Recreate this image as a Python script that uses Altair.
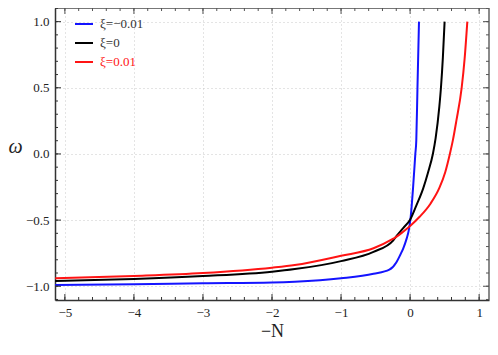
import altair as alt
import pandas as pd

# ---- data ----
series_labels = ["ξ=−0.01", "ξ=0", "ξ=0.01"]
series_colors = ["#1414ff", "#000000", "#ff1414"]
label_colors = ["#333333", "#333333", "#ff1414"]

x_blue = [-5.14, -4, -3, -2, -1.67, -1, -0.53, -0.3, -0.2, -0.14, -0.1, -0.05, -0.02, 0.01, 0.043, 0.076, 0.09, 0.107, 0.129]
w_blue = [-0.99, -0.985, -0.978, -0.972, -0.966, -0.94, -0.906, -0.875, -0.82, -0.76, -0.715, -0.64, -0.58, -0.47, -0.257, 0.0, 0.104, 0.5, 1.0]

x_black = [-5.14, -4, -3, -2, -1.67, -1, -0.53, -0.243, -0.195, -0.1, 0, 0.09, 0.19, 0.26, 0.33, 0.37, 0.424, 0.447, 0.475, 0.5]
w_black = [-0.96, -0.945, -0.923, -0.89, -0.87, -0.81, -0.74, -0.653, -0.62, -0.56, -0.497, -0.39, -0.26, -0.14, 0.0, 0.12, 0.36, 0.5, 0.73, 1.0]

x_red = [-5.14, -4, -3, -2, -1.67, -1, -0.53, -0.243, -0.195, -0.1, 0, 0.138, 0.295, 0.424, 0.51, 0.576, 0.62, 0.67, 0.747, 0.79, 0.829]
w_red = [-0.94, -0.922, -0.90, -0.86, -0.84, -0.77, -0.713, -0.64, -0.625, -0.588, -0.545, -0.475, -0.376, -0.257, -0.136, 0.0, 0.104, 0.25, 0.5, 0.72, 1.0]

x_major = [-5, -4, -3, -2, -1, 0, 1]
x_minor = [round(-5.0 + 0.2 * i, 1) for i in range(31)]
y_major = [-1.0, -0.5, 0.0, 0.5, 1.0]
y_minor = [round(-1.1 + 0.1 * i, 1) for i in range(23)]

# ---- layout ----
W, H = 434, 292
xdom = [-5.143, 1.143]
ydom = [-1.104, 1.103]
FONT = "Liberation Serif"
MAJ, MIN = 6, 3

rows = []
for lab, xs, ws in zip(series_labels, [x_blue, x_black, x_red], [w_blue, w_black, w_red]):
    for i, (a, b) in enumerate(zip(xs, ws)):
        rows.append({"series": lab, "N": a, "w": b, "order": i})
df = pd.DataFrame(rows)

xs_ = alt.Scale(domain=xdom, nice=False, zero=False)
ys_ = alt.Scale(domain=ydom, nice=False, zero=False)

x_axis = alt.Axis(values=x_major, format="d", ticks=False, grid=True,
                  gridColor="#c8c8c8", gridDash=[1, 3], gridWidth=1,
                  domain=True, domainColor="#333333", domainWidth=1.5,
                  labelFont=FONT, labelFontSize=13, labelColor="#222222", labelPadding=6,
                  title="−N", titleFont=FONT, titleFontSize=18, titleFontWeight="normal",
                  titleColor="#222222", titlePadding=3)
y_axis = alt.Axis(values=y_major, format=".1f", ticks=False, grid=True,
                  gridColor="#c8c8c8", gridDash=[1, 3], gridWidth=1,
                  domain=True, domainColor="#333333", domainWidth=1.5,
                  labelFont=FONT, labelFontSize=13, labelColor="#222222", labelPadding=6,
                  title="ω", titleFont=FONT, titleFontSize=20, titleFontWeight="normal",
                  titleFontStyle="italic", titleColor="#222222", titleAngle=0,
                  titleX=-40, titleY=H / 2 - 8, titleAlign="center", titleBaseline="middle")

X = lambda f: alt.X(f, type="quantitative", scale=xs_, axis=x_axis)
Y = lambda f: alt.Y(f, type="quantitative", scale=ys_, axis=y_axis)

lines = alt.Chart(df).mark_line(strokeWidth=2, clip=True, interpolate="monotone").encode(
    x=X("N"),
    y=Y("w"),
    color=alt.Color("series:N", scale=alt.Scale(domain=series_labels, range=series_colors), legend=None),
    detail="series:N",
    order="order:Q",
)

one = pd.DataFrame({"a": [0]})
top_frame = alt.Chart(one).mark_rule(color="#555555", strokeWidth=1.5).encode(
    x=alt.value(0), x2=alt.value(W), y=alt.value(0))
right_frame = alt.Chart(one).mark_rule(color="#8a8a8a", strokeWidth=2).encode(
    x=alt.value(W), y=alt.value(0), y2=alt.value(H))

def xticks(vals, length):
    d = pd.DataFrame({"t": vals})
    b = alt.Chart(d).mark_rule(color="#333333", strokeWidth=1).encode(
        x=X("t"), y=alt.value(H), y2=alt.value(H - length))
    t = alt.Chart(d).mark_rule(color="#555555", strokeWidth=1).encode(
        x=X("t"), y=alt.value(0), y2=alt.value(length))
    return [b, t]

def yticks(vals, length):
    d = pd.DataFrame({"t": vals})
    l = alt.Chart(d).mark_rule(color="#333333", strokeWidth=1).encode(
        y=Y("t"), x=alt.value(0), x2=alt.value(length))
    r = alt.Chart(d).mark_rule(color="#555555", strokeWidth=1).encode(
        y=Y("t"), x=alt.value(W), x2=alt.value(W - length))
    return [l, r]

tick_layers = xticks(x_major, MAJ) + xticks(x_minor, MIN) + yticks(y_major, MAJ) + yticks(y_minor, MIN)

# ---- legend (manual, so the last label can be red) ----
leg_layers = []
for i, (lab, c, tc) in enumerate(zip(series_labels, series_colors, label_colors)):
    ypix = 16 + 19 * i
    d = pd.DataFrame({"label": [lab]})
    leg_layers.append(alt.Chart(d).mark_rule(strokeWidth=2, color=c).encode(
        x=alt.value(20), x2=alt.value(38), y=alt.value(ypix)))
    leg_layers.append(alt.Chart(d).mark_text(align="left", baseline="middle", font=FONT,
                                             fontSize=13, color=tc).encode(
        x=alt.value(45), y=alt.value(ypix), text="label:N"))

chart = alt.layer(lines, top_frame, right_frame, *tick_layers, *leg_layers).properties(
    width=W, height=H,
    padding={"left": 47, "top": 0, "right": 1, "bottom": 40},
    autosize=alt.AutoSizeParams(type="none"),
).configure_view(stroke=None).configure(background="white")

chart.save("out.html", embed_options={"renderer": "svg", "actions": False})
